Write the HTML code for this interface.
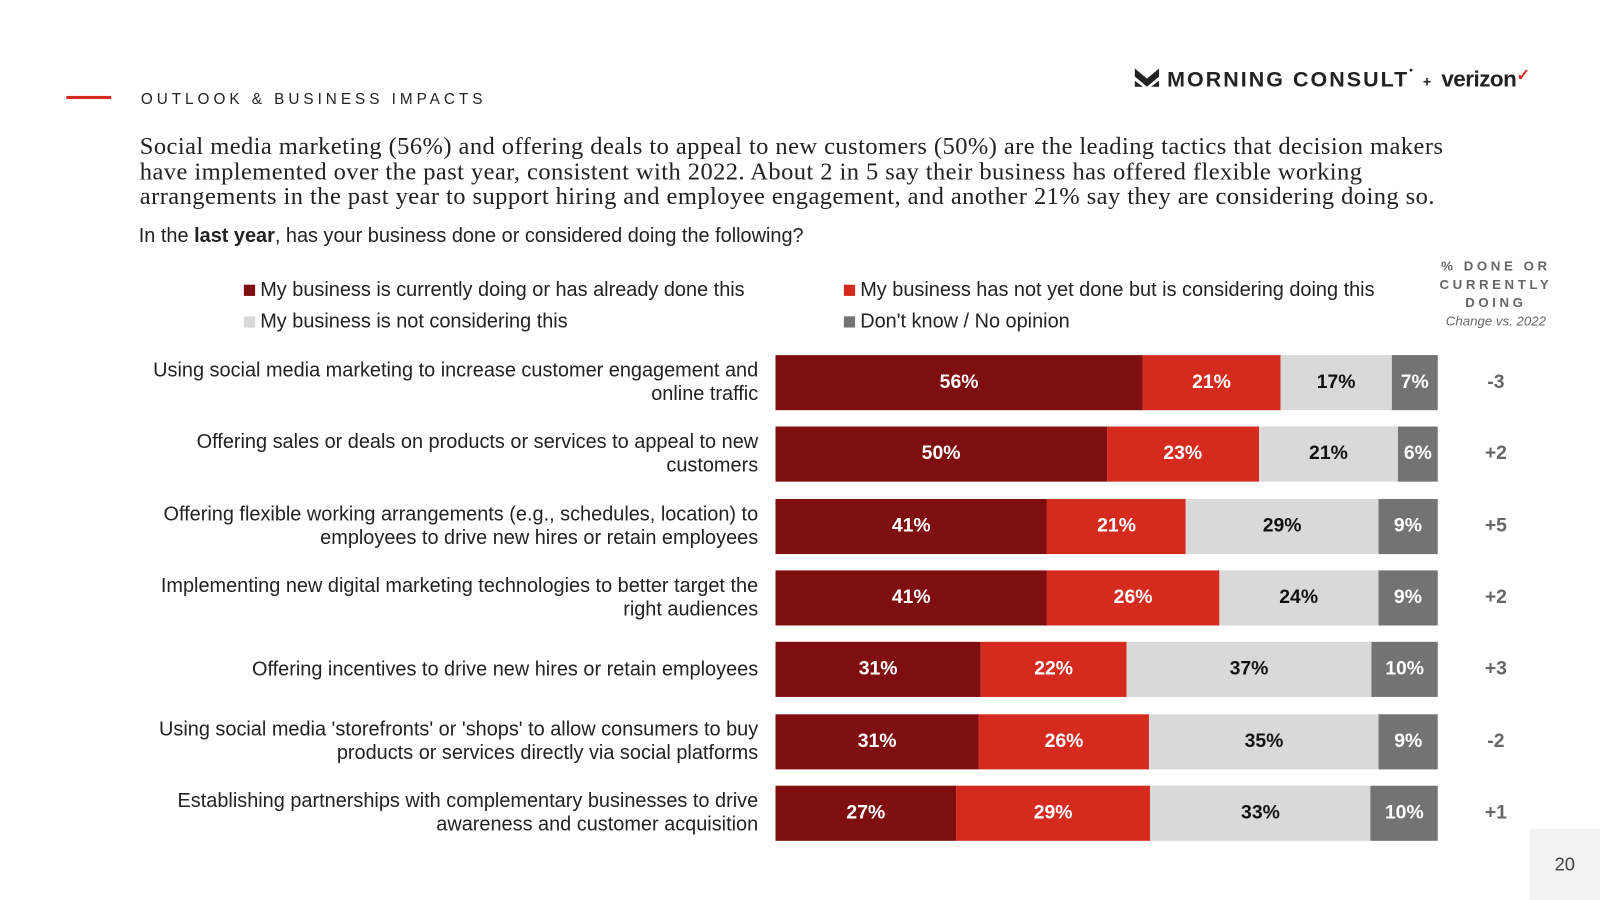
<!DOCTYPE html>
<html><head><meta charset="utf-8">
<style>
body{margin:0;width:1600px;height:900px;background:#fff;overflow:hidden;font-family:"Liberation Sans",Arial,sans-serif;color:#222}
#wrap{position:absolute;left:0;top:0;width:1568px;height:882px;transform:scale(1.0204);transform-origin:0 0}
.abs{position:absolute}
.lab{position:absolute;right:825px;width:700px;text-align:right;font-size:19.5px;line-height:23px;color:#222;white-space:nowrap}
.seg{position:absolute;display:flex;align-items:center;justify-content:center;font-weight:bold;font-size:19px}
.chg{position:absolute;left:1440px;width:52px;text-align:center;font-weight:bold;font-size:19px;color:#666}
.leg{position:absolute;font-size:19.5px;color:#222}
.leg i{display:inline-block;width:11px;height:11px;margin-right:5px;vertical-align:0px}
</style></head><body><div id="wrap">
<div class="abs" style="left:65px;top:94px;width:44px;height:3px;background:#d52b1e"></div>
<div class="abs" style="left:138px;top:89px;font-size:15px;letter-spacing:3.9px;color:#222">OUTLOOK &amp; BUSINESS IMPACTS</div>
<div class="abs" style="left:1112px;top:64px;font-size:21px;font-weight:bold;letter-spacing:2px;color:#222;white-space:nowrap">
<svg width="24" height="24" viewBox="0 0 24 24" style="vertical-align:-4px"><path d="M0 2 L12 12 L24 2 V10 L12 20 L0 10Z M0 14 L8 20 H0Z M24 14 L16 20 H24Z" fill="#222"/></svg> MORNING CONSULT<span style="font-size:10px;vertical-align:top">•</span> <span style="font-size:14px">+</span> <span style="letter-spacing:-0.5px;font-size:22px">verizon</span><span style="color:#d52b1e;font-size:16px;vertical-align:6px">✓</span></div>
<div class="abs" style="left:137px;top:132px;white-space:nowrap;font-family:'Liberation Serif',serif;font-size:24px;letter-spacing:0.43px;line-height:24.5px;color:#222">Social media marketing (56%) and offering deals to appeal to new customers (50%) are the leading tactics that decision makers<br>have implemented over the past year, consistent with 2022. About 2 in 5 say their business has offered flexible working<br>arrangements in the past year to support hiring and employee engagement, and another 21% say they are considering doing so.</div>
<div class="abs" style="left:136px;top:220px;font-size:19.5px">In the <b>last year</b>, has your business done or considered doing the following?</div>
<div class="leg" style="left:239px;top:273px"><i style="background:#7f0e10"></i>My business is currently doing or has already done this</div>
<div class="leg" style="left:827px;top:273px"><i style="background:#d52b1e"></i>My business has not yet done but is considering doing this</div>
<div class="leg" style="left:239px;top:304px"><i style="background:#d9d9d9"></i>My business is not considering this</div>
<div class="leg" style="left:827px;top:304px"><i style="background:#737373"></i>Don't know / No opinion</div>
<div class="abs" style="left:1400px;top:252px;width:132px;text-align:center;font-size:13px;font-weight:bold;letter-spacing:3.5px;line-height:18px;color:#666">% DONE OR CURRENTLY DOING<div style="font-weight:normal;font-style:italic;letter-spacing:0;font-size:13px">Change vs. 2022</div></div>
<div id="chart"></div>
<div class="abs" style="left:1499px;top:812px;width:69px;height:70px;background:#f2f2f2;font-size:18px;color:#444;display:flex;align-items:center;justify-content:center">20</div>
</div>
<script>
const categories=["Using social media marketing to increase customer engagement and|online traffic","Offering sales or deals on products or services to appeal to new|customers","Offering flexible working arrangements (e.g., schedules, location) to|employees to drive new hires or retain employees","Implementing new digital marketing technologies to better target the|right audiences","Offering incentives to drive new hires or retain employees","Using social media 'storefronts' or 'shops' to allow consumers to buy|products or services directly via social platforms","Establishing partnerships with complementary businesses to drive|awareness and customer acquisition"];
const doneVals=[56,50,41,41,31,31,27];
const consideringVals=[21,23,21,26,22,26,29];
const notConsideringVals=[17,21,29,24,37,35,33];
const dontKnowVals=[7,6,9,9,10,9,10];
const changeLabels=["-3","+2","+5","+2","+3","-2","+1"];
const colors=["#7f0e10","#d52b1e","#d9d9d9","#737373"];
const txt=["#fff","#fff","#111","#fff"];
const segNames=["done","considering","not-considering","dont-know"];
const X0=760,W=649,Y0=348,PITCH=70.3,H=54;
const chart=document.getElementById('chart');
function yPos(i){return Y0+i*PITCH;}
categories.forEach((c,i)=>{
  const y=yPos(i);
  const parts=c.split('|');
  const lab=document.createElement('div');lab.className='lab';
  
  
  lab.innerHTML=parts.join('<br>');
  lab.style.top=(y+H/2-parts.length*11.5)+'px';
  chart.appendChild(lab);
  const vals=[doneVals[i],consideringVals[i],notConsideringVals[i],dontKnowVals[i]];
  const tot=vals.reduce((a,b)=>a+b,0);
  let x=X0;
  vals.forEach((v,k)=>{
    const w=v/tot*W;
    const s=document.createElement('div');s.className='seg';
    
    
    s.style.cssText+=`left:${x}px;top:${y}px;width:${w}px;height:${H}px;background:${colors[k]};color:${txt[k]}`;
    s.textContent=v+'%';chart.appendChild(s);x+=w;
  });
  const ch=document.createElement('div');ch.className='chg';
  
  
  ch.style.top=(y+16)+'px';ch.textContent=changeLabels[i];chart.appendChild(ch);
});
</script>
</body></html>
